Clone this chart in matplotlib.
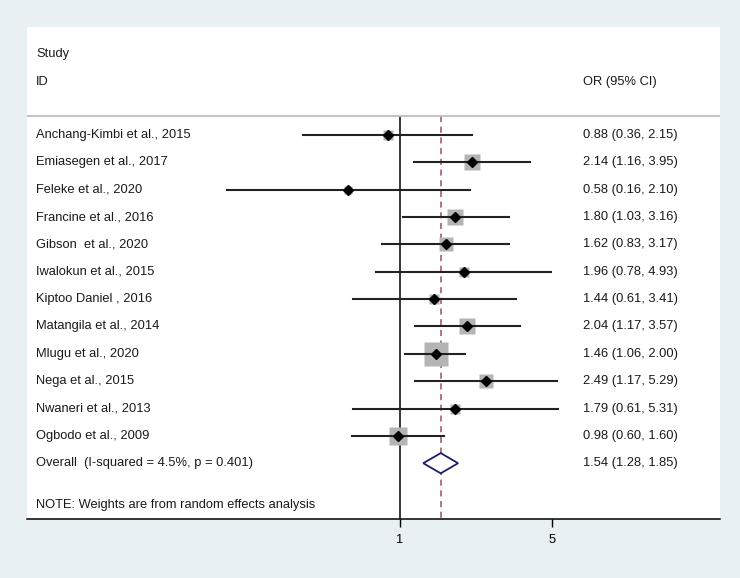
import matplotlib
matplotlib.use("Agg")
import matplotlib.pyplot as plt
import numpy as np

plt.rcParams["font.family"] = ["Liberation Sans", "DejaVu Sans"]

# data
studies = ["Anchang-Kimbi et al., 2015", "Emiasegen et al., 2017", "Feleke et al., 2020",
           "Francine et al., 2016", "Gibson  et al., 2020", "Iwalokun et al., 2015",
           "Kiptoo Daniel , 2016", "Matangila et al., 2014", "Mlugu et al., 2020",
           "Nega et al., 2015", "Nwaneri et al., 2013", "Ogbodo et al., 2009"]
or_est = [0.88, 2.14, 0.58, 1.80, 1.62, 1.96, 1.44, 2.04, 1.46, 2.49, 1.79, 0.98]
ci_lo = [0.36, 1.16, 0.16, 1.03, 0.83, 0.78, 0.61, 1.17, 1.06, 1.17, 0.61, 0.60]
ci_hi = [2.15, 3.95, 2.10, 3.16, 3.17, 4.93, 3.41, 3.57, 2.00, 5.29, 5.31, 1.60]
weights = [4.1, 9.2, 2.6, 10.4, 6.9, 4.9, 4.9, 10.4, 23.5, 6.9, 3.7, 12.5]  # % (from box size)
overall = (1.54, 1.28, 1.85)
overall_label = "Overall  (I-squared = 4.5%, p = 0.401)"
note = "NOTE: Weights are from random effects analysis"
xticks = [1, 5]

BG = "#e8f0f3"
FS = 9.3

fig = plt.figure(figsize=(7.4, 5.78), dpi=100, facecolor=BG)
ax = fig.add_axes([27 / 740, 59 / 578, 693 / 740, 492 / 578])
ax.set_facecolor("white")
ax.set_xscale("log")
ax.set_xlim(0.0193, 29.6)
ax.set_ylim(14.04, -3.95)

# box side in px ~ sqrt(weight)
k = 24 / np.sqrt(max(weights))
for i, (est, lo, hi, w) in enumerate(zip(or_est, ci_lo, ci_hi, weights)):
    side = k * np.sqrt(w) * 0.72
    ax.plot([est], [i], marker="s", ms=side, color="#b4b4b4", mec="none", zorder=2)
    ax.plot([lo, hi], [i, i], color="#222222", lw=1.5, zorder=3)
    ax.plot([est], [i], marker="D", ms=5, color="black", zorder=4)
    ax.text(0.013, i, studies[i], transform=ax.get_yaxis_transform(),
            va="center", fontsize=FS, color="#1a1a1a")
    ax.text(0.802, i, f"{est:.2f} ({lo:.2f}, {hi:.2f})", transform=ax.get_yaxis_transform(),
            va="center", fontsize=FS, color="#1a1a1a")

# overall diamond
n = len(studies)
est, lo, hi = overall
ax.fill([lo, est, hi, est, lo], [n, n - 0.37, n, n + 0.37, n], facecolor="white",
        edgecolor="#1c1c6b", lw=1.3, zorder=4)
ax.text(0.013, n, overall_label, transform=ax.get_yaxis_transform(),
        va="center", fontsize=FS, color="#1a1a1a")
ax.text(0.802, n, f"{est:.2f} ({lo:.2f}, {hi:.2f})", transform=ax.get_yaxis_transform(),
        va="center", fontsize=FS, color="#1a1a1a")

# reference lines
ax.plot([1, 1], [-0.69, 14.04], color="black", lw=1.1, zorder=1)
ax.plot([est, est], [-0.69, 14.04], color="#a0505a", lw=1.1, ls=(0, (4, 3)), zorder=1)
ax.axhline(-0.69, color="#c4c4c4", lw=1.5)

# headers and note
ax.text(0.013, -2.96, "Study", transform=ax.get_yaxis_transform(), va="center", fontsize=FS, color="#1a1a1a")
ax.text(0.013, -1.94, "ID", transform=ax.get_yaxis_transform(), va="center", fontsize=FS, color="#1a1a1a")
ax.text(0.802, -1.94, "OR (95% CI)", transform=ax.get_yaxis_transform(), va="center", fontsize=FS, color="#1a1a1a")
ax.text(0.013, 13.53, note, transform=ax.get_yaxis_transform(), va="center", fontsize=FS, color="#1a1a1a")

for s in ["top", "left", "right"]:
    ax.spines[s].set_visible(False)
ax.spines["bottom"].set_linewidth(1.1)
ax.set_yticks([])
ax.set_xticks(xticks)
ax.set_xticklabels([str(t) for t in xticks])
ax.minorticks_off()
ax.tick_params(axis="x", length=6, width=1.0, labelsize=FS, pad=5)

fig.savefig("out.png", dpi=100, facecolor=BG)
